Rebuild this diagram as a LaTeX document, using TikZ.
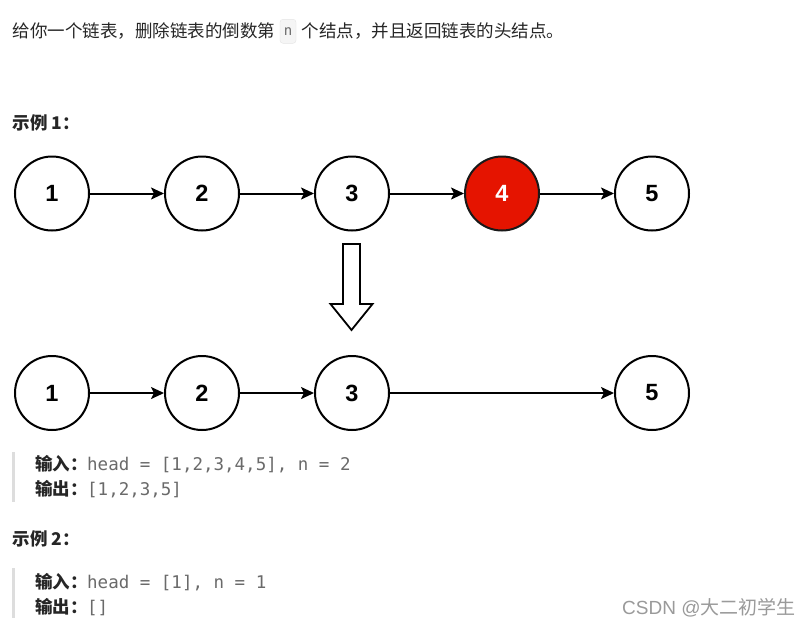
\documentclass[tikz,border=0pt]{standalone}
\usepackage{fontspec}
\setmainfont{Noto Sans CJK SC}
\newfontfamily\arialf{Liberation Sans}
\newfontfamily\monof{DejaVu Sans Mono}
\usetikzlibrary{arrows.meta}
\definecolor{txt}{HTML}{262626}
\definecolor{codegray}{HTML}{6A6A6A}
\definecolor{barc}{HTML}{DDDDDD}
\definecolor{nodered}{HTML}{E51400}
\definecolor{wm}{HTML}{9A9A9A}
\tikzset{
  lnode/.style={circle, draw=black, line width=2pt, minimum size=74pt, inner sep=0pt,
    fill=white, font=\arialf\bfseries\fontsize{23.5}{26}\selectfont},
  rednode/.style={lnode, fill=nodered, text=white, draw=black!90},
  link/.style={line width=2pt, -{Stealth[length=13pt, width=12pt, inset=3pt]}},
  plain/.style={anchor=base west, inner sep=0pt, text=txt, font=\fontsize{17.5}{20}\selectfont},
  label/.style={plain, font=\bfseries\fontsize{17.5}{20}\selectfont},
  code/.style={anchor=base west, inner sep=0pt, text=codegray, font=\monof\fontsize{17.5}{20}\selectfont},
  bar/.style={line width=3pt, draw=barc}
}
\begin{document}
\begin{tikzpicture}[x=1pt, y=-1pt]
\fill[white] (0,0) rectangle (809,627);
\useasboundingbox (0,0) rectangle (809,627);

% top sentence
\node[plain] (t1) at (12.7,37) {给你一个链表，删除链表的倒数第};
\node[draw=black!10, fill=black!4, rounded corners=3pt, minimum width=16pt, minimum height=24pt,
  inner sep=0pt, text=codegray, font=\monof\fontsize{14}{16}\selectfont] (nbox) at (288,31.3) {n};
\node[plain] (t2) at (301.7,37) {个结点，并且返回链表的头结点。};

% example 1 title
\node[label] (ex1) at (12.7,129.5) {示例 1：};

% row 1
\node[lnode] (a1) at (52,193.5) {1};
\node[lnode] (a2) at (202,193.5) {2};
\node[lnode] (a3) at (352,193.5) {3};
\node[rednode] (a4) at (502,193.5) {4};
\node[lnode] (a5) at (652,193.5) {5};
\draw[link] (a1) -- (a2);
\draw[link] (a2) -- (a3);
\draw[link] (a3) -- (a4);
\draw[link] (a4) -- (a5);

% hollow arrow
\draw[line width=1.8pt, fill=white, line join=miter]
  (343,244) -- (360,244) -- (360,304) -- (372.5,304) -- (351.5,330) -- (330.5,304) -- (343,304) -- cycle;

% row 2
\node[lnode] (b1) at (52,393) {1};
\node[lnode] (b2) at (202,393) {2};
\node[lnode] (b3) at (352,393) {3};
\node[lnode] (b5) at (652,393) {5};
\draw[link] (b1) -- (b2);
\draw[link] (b2) -- (b3);
\draw[link] (b3) -- (b5);

% code block 1
\coordinate (bar1t) at (13.5,452);
\coordinate (bar1b) at (13.5,502);
\draw[bar] (bar1t) -- (bar1b);
\node[label] (in1) at (35,470.7) {输入：};
\node[code] (in1c) at (87,470.7) {head = [1,2,3,4,5], n = 2};
\node[label] (out1) at (35,495.7) {输出：};
\node[code] (out1c) at (87,495.7) {[1,2,3,5]};

% example 2
\node[label] (ex2) at (12.7,545) {示例 2：};
\coordinate (bar2t) at (13.5,568);
\coordinate (bar2b) at (13.5,618);
\draw[bar] (bar2t) -- (bar2b);
\node[label] (in2) at (35,588.3) {输入：};
\node[code] (in2c) at (87,588.3) {head = [1], n = 1};
\node[label] (out2) at (35,613) {输出：};
\node[code] (out2c) at (87,613) {[]};

% watermark
\node[anchor=base west, inner sep=0pt, text=wm, font=\fontsize{19}{22}\selectfont] (wmk) at (622,614) {{\arialf CSDN @}大二初学生};
\end{tikzpicture}
\end{document}
